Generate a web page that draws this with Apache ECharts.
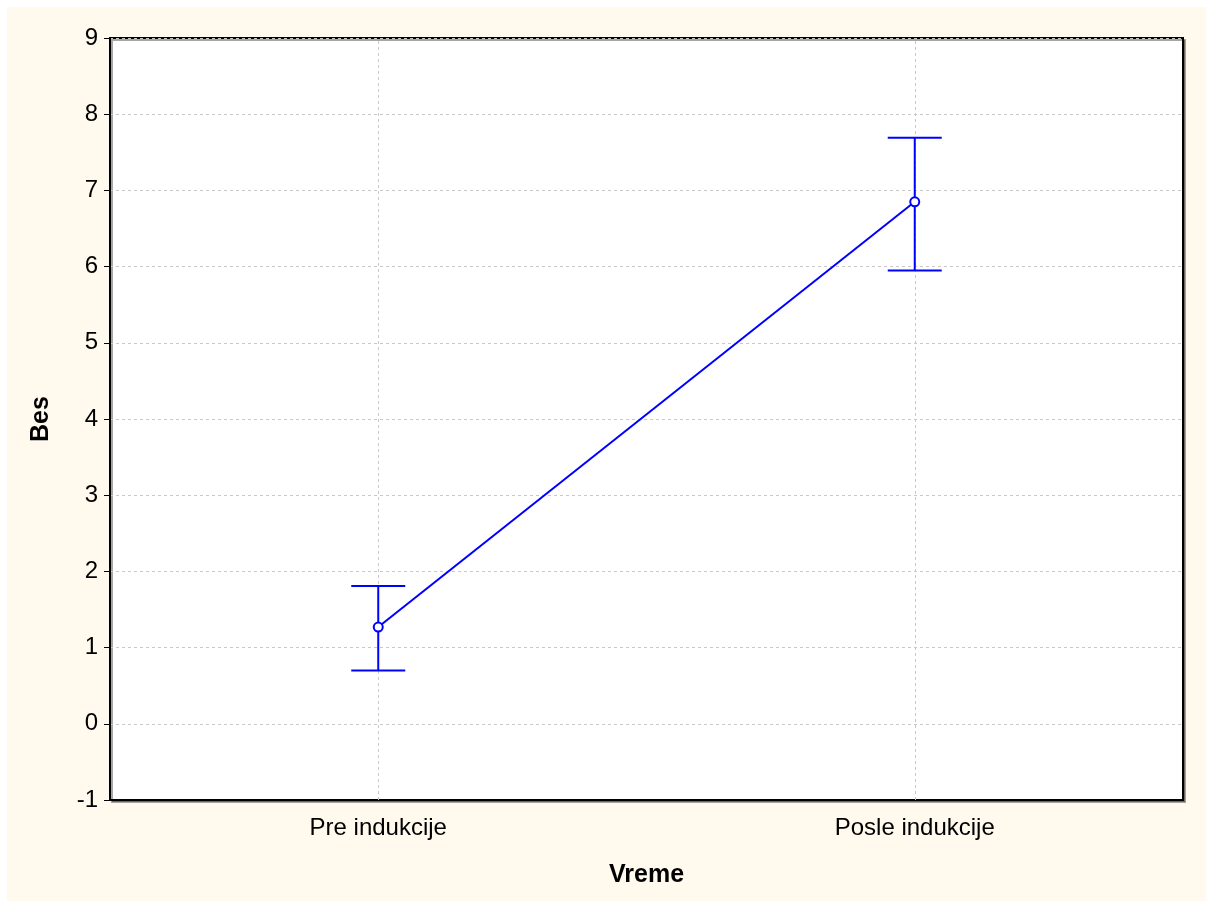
<!DOCTYPE html>
<html>
<head>
<meta charset="utf-8">
<script src="https://cdn.jsdelivr.net/npm/echarts@6/dist/echarts.min.js"></script>
<style>
    html, body { margin: 0; padding: 0; background: #fff; }
    #chart { position: absolute; left: 7px; top: 7px; width: 1199px; height: 894px; }
</style>
</head>
<body>
<div id="chart"></div>
<script>
var categories = ['Pre indukcije', 'Posle indukcije'];
var means = [1.27, 6.85];
var lower = [0.70, 5.95];
var upper = [1.81, 7.69];
var yTicks = { min: -1, max: 9, interval: 1 };

var blue = '#0000ff';
var font = 'Liberation Sans, Arial, sans-serif';

var errData = [];
for (var i = 0; i < categories.length; i++) {
    errData.push([i, lower[i], upper[i]]);
}

var myChart = echarts.init(document.getElementById('chart'), null, {renderer: 'canvas'});
myChart.setOption({
    backgroundColor: '#fff9ee',
    animation: false,
    grid: {
        left: 103,
        top: 31,
        right: 23,
        bottom: 101,
        show: true,
        backgroundColor: '#ffffff',
        borderColor: '#000',
        borderWidth: 2,
        shadowColor: 'rgba(0,0,0,0.35)',
        shadowOffsetX: 2,
        shadowOffsetY: 2
    },
    xAxis: {
        type: 'category',
        data: categories,
        name: 'Vreme',
        nameLocation: 'middle',
        nameGap: 63,
        nameTextStyle: {fontFamily: font, fontSize: 25, fontWeight: 'bold', color: '#000'},
        axisLine: {onZero: false, lineStyle: {color: '#000', width: 2}},
        axisTick: {alignWithLabel: true, inside: true, length: 6, lineStyle: {color: '#000'}},
        axisLabel: {fontFamily: font, fontSize: 24, color: '#000', margin: 16},
        splitLine: {show: false}
    },
    yAxis: {
        type: 'value',
        min: yTicks.min,
        max: yTicks.max,
        interval: yTicks.interval,
        name: 'Bes',
        nameLocation: 'middle',
        nameGap: 56,
        nameTextStyle: {fontFamily: font, fontSize: 25, fontWeight: 'bold', color: '#000'},
        axisLine: {show: true, lineStyle: {color: '#000', width: 2}},
        axisTick: {show: true, length: 6, lineStyle: {color: '#000'}},
        axisLabel: {fontFamily: font, fontSize: 24, color: '#000', margin: 12},
        splitLine: {show: true, lineStyle: {color: '#c8c8c8', type: [3, 3], width: 1}}
    },
    series: [
        {
            // vertical grid lines at category centres
            type: 'line',
            data: [],
            z: 1,
            silent: true,
            markLine: {
                silent: true,
                z: 1,
                symbol: 'none',
                label: {show: false},
                lineStyle: {color: '#c8c8c8', type: [3, 3], width: 1},
                data: categories.map(function (c) { return {xAxis: c}; })
            }
        },
        {
            type: 'custom',
            z: 3,
            data: errData,
            renderItem: function (params, api) {
                var x = api.value(0);
                var lo = api.coord([x, api.value(1)]);
                var hi = api.coord([x, api.value(2)]);
                var w = 27;
                var style = {stroke: blue, lineWidth: 2};
                return {
                    type: 'group',
                    children: [
                        {type: 'line', shape: {x1: lo[0], y1: lo[1], x2: hi[0], y2: hi[1]}, style: style},
                        {type: 'line', shape: {x1: lo[0] - w, y1: lo[1], x2: lo[0] + w, y2: lo[1]}, style: style},
                        {type: 'line', shape: {x1: hi[0] - w, y1: hi[1], x2: hi[0] + w, y2: hi[1]}, style: style}
                    ]
                };
            }
        },
        {
            type: 'line',
            z: 4,
            data: means,
            symbol: 'emptyCircle',
            symbolSize: 9,
            lineStyle: {color: blue, width: 2},
            itemStyle: {color: blue, borderWidth: 2}
        }
    ]
});
</script>
</body>
</html>
